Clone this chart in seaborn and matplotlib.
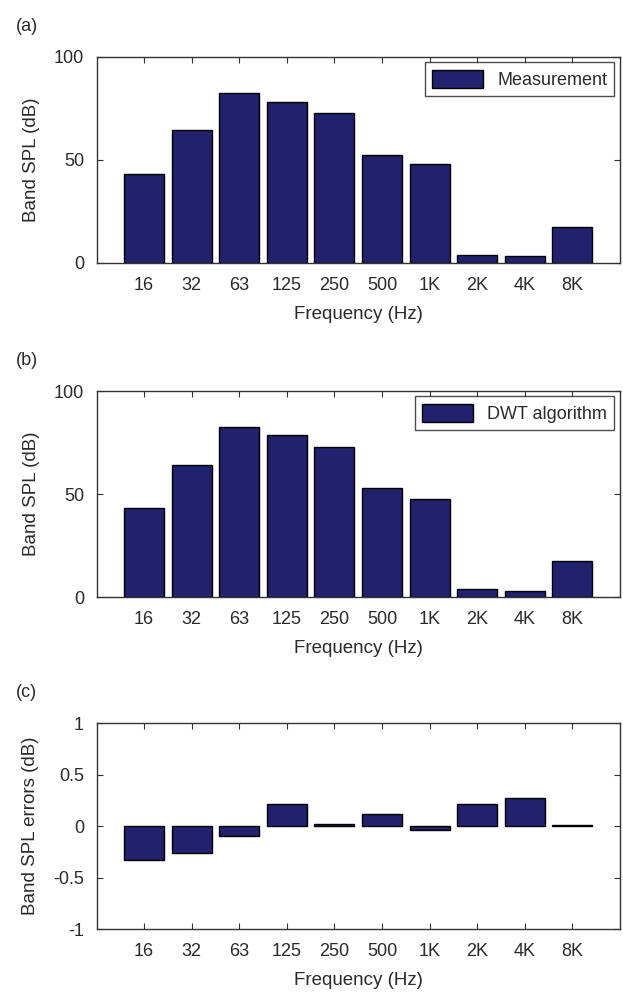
import matplotlib
matplotlib.use("Agg")
import matplotlib.pyplot as plt
import seaborn as sns
import pandas as pd
from matplotlib.patches import Patch

# octave bands
freqs = ["16", "32", "63", "125", "250", "500", "1K", "2K", "4K", "8K"]

# band SPL values
measured = [43.4, 64.7, 82.6, 78.0, 73.0, 52.5, 48.0, 3.9, 3.3, 17.6]
dwt = [43.2, 64.0, 82.6, 78.6, 72.8, 52.8, 47.6, 3.8, 3.1, 17.3]
errors = [-0.33, -0.26, -0.10, 0.21, 0.02, 0.12, -0.04, 0.21, 0.27, 0.01]

bar_color = "#21216d"
txt = "#2a2a2a"

sns.set_theme(style="ticks", rc={
    "xtick.direction": "in", "ytick.direction": "in",
    "xtick.top": True, "ytick.right": True,
    "axes.edgecolor": "#333333", "axes.linewidth": 1.0,
    "xtick.color": "#333333", "ytick.color": "#333333",
    "axes.unicode_minus": False,
})
plt.rcParams["font.family"] = ["Liberation Sans", "DejaVu Sans"]

df = pd.DataFrame({"freq": freqs, "meas": measured, "dwt": dwt, "err": errors})

fig = plt.figure(figsize=(6.23, 9.98), dpi=100)
lft, wid, hgt = 0.155, 0.840, 0.2064
ax_a = fig.add_axes([lft, 0.7365, wid, hgt])
ax_b = fig.add_axes([lft, 0.4018, wid, hgt])
ax_c = fig.add_axes([lft, 0.0691, wid, hgt])

panels = [
    (ax_a, "meas", "(a)", "Band SPL (dB)", "Measurement"),
    (ax_b, "dwt", "(b)", "Band SPL (dB)", "DWT algorithm"),
    (ax_c, "err", "(c)", "Band SPL errors (dB)", None),
]

for ax, col, tag, ylab, leg in panels:
    sns.barplot(data=df, x="freq", y=col, order=freqs, color=bar_color,
                saturation=1, width=0.84, edgecolor="black", linewidth=1.0, ax=ax)
    ax.set_xlim(-1, 10)
    ax.set_xlabel("Frequency (Hz)", fontsize=13.5, color=txt, labelpad=9)
    ax.set_ylabel(ylab, fontsize=13.5, color=txt, labelpad=10)
    ax.tick_params(labelsize=13, length=4, width=0.8, labelcolor=txt)
    ax.tick_params(axis="x", pad=10)
    ax.tick_params(axis="y", pad=9)
    for s in ax.spines.values():
        s.set_visible(True)
    ax.text(-0.155, 1.15, tag, transform=ax.transAxes, fontsize=13,
            color=txt, ha="left", va="center")
    if col == "err":
        ax.set_ylim(-1, 1)
        ax.set_yticks([-1, -0.5, 0, 0.5, 1])
        ax.set_yticklabels(["-1", "-0.5", "0", "0.5", "1"])
    else:
        ax.set_ylim(0, 100)
        ax.set_yticks([0, 50, 100])
    if leg:
        ax.legend(handles=[Patch(facecolor=bar_color, edgecolor="black", label=leg)],
                  loc="upper right", fontsize=13, frameon=True, fancybox=False,
                  edgecolor="#222222", handlelength=2.8, handleheight=1.2,
                  borderaxespad=0.3, labelcolor=txt)

fig.savefig("out.png", dpi=100)
